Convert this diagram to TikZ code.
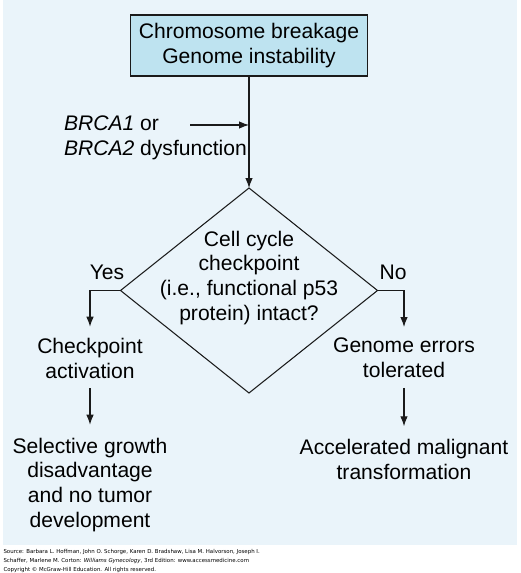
\documentclass[tikz,border=0pt]{standalone}
\usepackage{fontspec}
\setmainfont{Liberation Sans}
\newfontfamily\creditfont{DejaVu Sans}
\usetikzlibrary{positioning,arrows.meta,shapes.geometric}
\definecolor{panel}{HTML}{EAF4FA}
\definecolor{boxblue}{HTML}{BEE3F0}
\definecolor{ink}{HTML}{1A1A1A}

\begin{document}
\begin{tikzpicture}[x=0.02cm,y=-0.02cm,font=\fontsize{12}{14.2}\selectfont,line width=.6pt,flow/.style={align=center,inner sep=2pt},link/.style={-{Latex[length=2mm,width=1.5mm]},draw=ink}]
\useasboundingbox (0,0) rectangle (520,573);
\fill[panel] (3,0) rectangle (517,545);
\node[draw=ink,fill=boxblue,minimum width=4.74cm,minimum height=1.22cm,align=center,inner sep=0pt] (breakage) at (249,45.5) {Chromosome breakage\\Genome instability};
\node[diamond,draw=ink,minimum width=5.14cm,minimum height=4.1cm,inner sep=0pt,outer sep=0pt] (check) at (249,290.5) {};
\node[flow] (checktxt) at (249,278) {Cell cycle\\checkpoint\\(i.e., functional p53\\protein) intact?};
\node[flow,anchor=west,align=left] (brca) at (60,137.5) {\textit{BRCA1} or\\\textit{BRCA2} dysfunction};
\coordinate (brcafrom) at (190,125);
\coordinate (brcato) at (249,125);
\node[flow] (yes) at (107,272) {Yes};
\node[flow] (no) at (393,272) {No};
\node[flow] (checkact) at (90,358) {Checkpoint\\activation};
\node[flow] (tolerated) at (404,358) {Genome errors\\tolerated};
\node[flow] (selgrowth) at (90,485) {Selective growth\\disadvantage\\and no tumor\\development};
\node[flow] (malignant) at (404,459.5) {Accelerated malignant\\transformation};
\node[anchor=north west,align=left,inner sep=0pt,font=\creditfont\fontsize{3.1}{5.1}\selectfont] (credit) at (3,549) {Source: Barbara L. Hoffman, John O. Schorge, Karen D. Bradshaw, Lisa M. Halvorson, Joseph I.\\Schaffer, Marlene M. Corton: \textit{Williams Gynecology}, 3rd Edition: www.accessmedicine.com\\Copyright \textcopyright{} McGraw-Hill Education. All rights reserved.};
\draw[link] (breakage.south) -- (check.north);
\draw[link] (brcafrom) -- (brcato);
\draw[link,shorten >=0.14cm] (check.west) -| (checkact.north);
\draw[link,shorten >=0.14cm] (check.east) -| (tolerated.north);
\foreach \a/\b in {checkact/selgrowth,tolerated/malignant}{\draw[link,shorten <=0.12cm,shorten >=0.18cm] (\a.south) -- (\b.north);}
\end{tikzpicture}
\end{document}
